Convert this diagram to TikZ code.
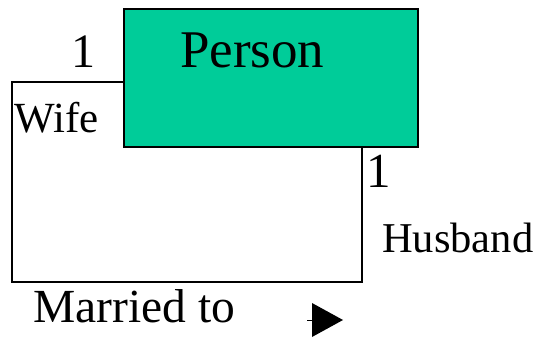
\documentclass[tikz,border=0pt]{standalone}
\usepackage{fontspec}
\setmainfont{Liberation Serif}
\definecolor{boxgreen}{RGB}{0,204,153}
\begin{document}
\begin{tikzpicture}[x=1pt,y=-1pt,
  lbl/.style={inner sep=0pt,anchor=base west},
  conn/.style={line width=2pt,line join=miter}]
\useasboundingbox (0,0) rectangle (537,339);
\node[draw,line width=2pt,fill=boxgreen,minimum width=294pt,minimum height=138pt,inner sep=0pt,anchor=north west] (person) at (123,8) {};
\node[lbl] (ptext) at (180,68) {\fontsize{53}{60}\selectfont Person};
\coordinate (c1) at (12,82);
\coordinate (c2) at (12,282);
\coordinate (c3) at (362,282);
\coordinate (pw) at (person.west |- c1);
\coordinate (ps) at (person.south -| c3);
\draw[conn] (pw) -- (c1) -- (c2) -- (c3) -- (ps);
\node[lbl] (one1) at (71,68) {\fontsize{48}{56}\selectfont 1};
\node[lbl] (wife) at (14,132) {\fontsize{43}{48}\selectfont Wife};
\node[lbl] (one2) at (366,187) {\fontsize{49}{56}\selectfont 1};
\node[lbl] (husband) at (382,252) {\fontsize{42.5}{48}\selectfont Husband};
\node[lbl] (married) at (33,322) {\fontsize{47.5}{54}\selectfont Married to};
\coordinate (a0) at (307,320);
\coordinate (a1) at (312,320);
\draw[line width=1pt] (a0) -- (a1);
\fill (312,303) -- (343,320) -- (312,337) -- cycle;
\end{tikzpicture}
\end{document}
